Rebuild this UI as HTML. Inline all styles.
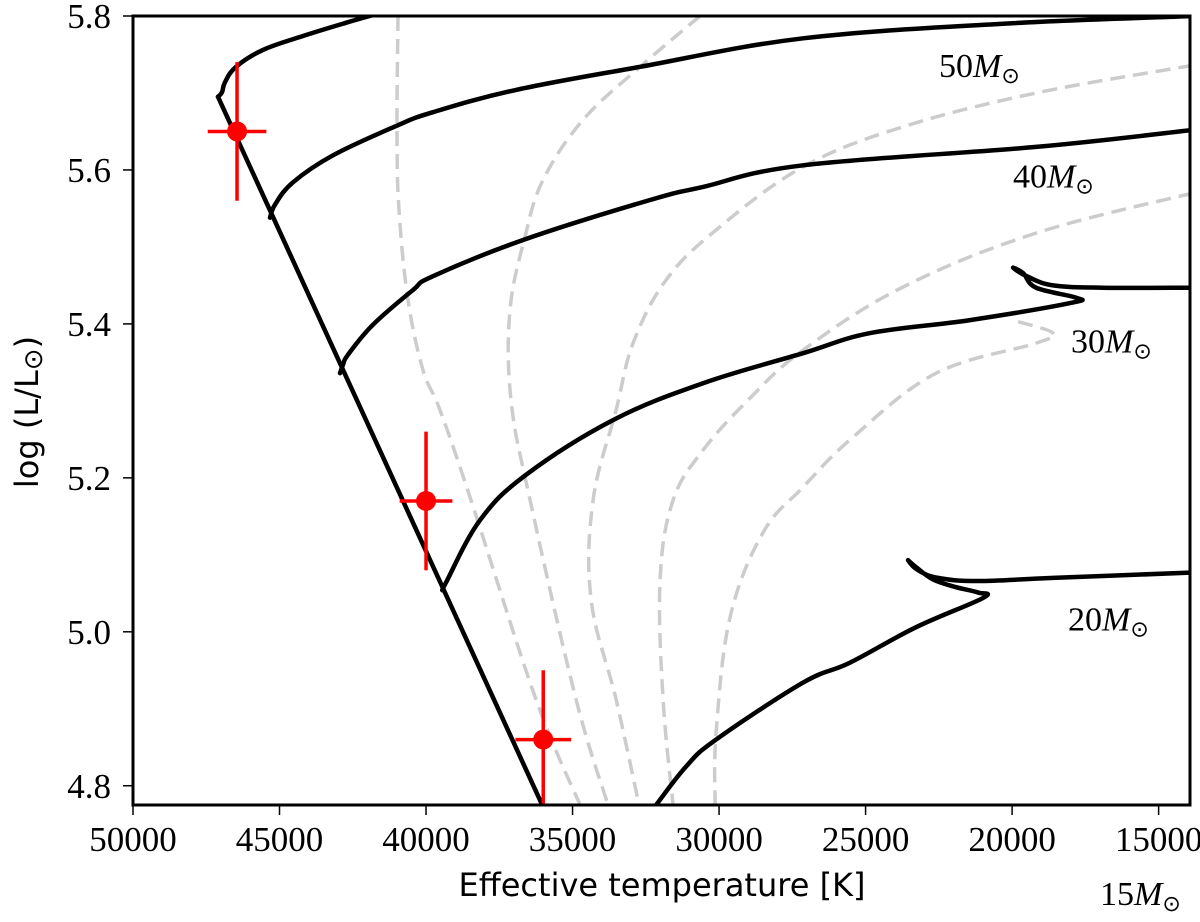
<!DOCTYPE html>
<html><head><meta charset="utf-8">
<style>
html,body{margin:0;padding:0;background:#fff;}
svg{display:block;}
.tick{font-family:"Liberation Serif",serif;font-size:35px;fill:#000;}
.lbl{font-family:"Liberation Serif",serif;font-size:34px;fill:#000;}
.ax{font-family:"DejaVu Sans","Liberation Sans",sans-serif;font-size:32px;fill:#000;}
</style></head>
<body>
<svg id="chart" width="1200" height="922" viewBox="0 0 1200 922" xmlns="http://www.w3.org/2000/svg">
<defs><clipPath id="clip"><rect x="133" y="16" width="1057" height="789"/></clipPath></defs>
<g id="plot" clip-path="url(#clip)"></g>
<rect x="133" y="16" width="1057" height="789" fill="none" stroke="#000" stroke-width="3"/>
<g id="axes"></g>
<text class="ax" x="662" y="896" text-anchor="middle">Effective temperature [K]</text>
<text class="ax" transform="translate(38,412) rotate(-90)" text-anchor="middle" font-size="35">log (L/L<tspan font-size="26" dy="4">⊙</tspan><tspan dy="-4">)</tspan></text>
</svg>
<script>
const xTicks=[50000,45000,40000,35000,30000,25000,20000,15000];
const yTicks=[4.8,5.0,5.2,5.4,5.6,5.8];
const zams=[[47100,5.695],[35950,4.768]];
const track60=[[47100,5.695],[46963,5.701],[46860,5.714],[46485,5.734],[45563,5.756],[44198,5.774],[42662,5.792],[41468,5.805]];
const track50=[[45324,5.538],[45154,5.555],[44539,5.584],[43174,5.619],[41024,5.657],[39761,5.675],[36928,5.704],[32696,5.734],[27133,5.771],[20307,5.790],[13822,5.800],[13480,5.801]];
const track40=[[42935,5.336],[42833,5.347],[42662,5.360],[41809,5.399],[40444,5.444],[39761,5.462],[36689,5.509],[32355,5.561],[30546,5.578],[27133,5.606],[19181,5.630],[13822,5.652]];
const track30=[[39420,5.055],[39317,5.064],[38157,5.145],[36587,5.204],[33618,5.275],[30546,5.323],[27133,5.362],[24846,5.388],[21433,5.405],[18020,5.427],[17815,5.434],[19181,5.447],[19624,5.466],[19966,5.473],[19500,5.462],[18600,5.450],[16894,5.447],[13822,5.447]];
const track20=[[32150,4.775],[31126,4.825],[30102,4.860],[27133,4.934],[25529,4.960],[23276,5.006],[20990,5.044],[21160,5.051],[21911,5.058],[22696,5.068],[23276,5.084],[23549,5.093],[23208,5.080],[22525,5.070],[21160,5.066],[18600,5.070],[13822,5.077]];
const iso1=[[40956,5.800],[40990,5.652],[40922,5.548],[40614,5.431],[40102,5.340],[39522,5.288],[38464,5.171],[36246,4.912],[34744,4.775]];
const iso2=[[30648,5.800],[32696,5.734],[34642,5.665],[36007,5.587],[36621,5.513],[37133,5.418],[37099,5.301],[36450,5.171],[34880,4.912],[33788,4.775]];
const iso3=[[13822,5.736],[19181,5.700],[23720,5.656],[27133,5.604],[30102,5.522],[31809,5.457],[32935,5.375],[33515,5.288],[34300,5.171],[34368,5.042],[33515,4.912],[32730,4.775]];
const iso4=[[13822,5.570],[19181,5.518],[23720,5.448],[27133,5.366],[29010,5.301],[30546,5.236],[31570,5.171],[32013,5.068],[31911,4.912],[31570,4.775]];
const iso5=[[19795,5.403],[18600,5.388],[19181,5.375],[22594,5.336],[25427,5.253],[27133,5.188],[28498,5.129],[29624,5.019],[30102,4.869],[30136,4.775]];
const starT=[46450,40000,36000];
const starL=[5.65,5.17,4.86];
const starTerr=[1000,900,950];
const starLerr=[0.09,0.09,0.09];
const massLabels=["50","40","30","20","15"];
const massLabelT=[22493,19968,17989,18091,17000];
const massLabelL=[5.721,5.577,5.363,5.002,4.645];

const X0=133,X1=1190,Y0=805,Y1=16;
const TMAX=50000,TMIN=13929;
const LMIN=4.775,LMAX=5.8;
function sx(t){return X0+(TMAX-t)/(TMAX-TMIN)*(X1-X0);}
function sy(l){return Y0-(l-LMIN)/(LMAX-LMIN)*(Y0-Y1);}
const NS="http://www.w3.org/2000/svg";
const plot=document.getElementById('plot');
const axes=document.getElementById('axes');
function mk(tag,attrs,parent){const e=document.createElementNS(NS,tag);for(const k in attrs)e.setAttribute(k,attrs[k]);parent.appendChild(e);return e;}
function pathD(pts){
  const p=pts.map(q=>[sx(q[0]),sy(q[1])]);
  if(p.length<3) return 'M'+p.map(q=>q[0].toFixed(1)+' '+q[1].toFixed(1)).join(' L');
  let d='M'+p[0][0].toFixed(1)+' '+p[0][1].toFixed(1);
  const k=0.18;
  for(let i=0;i<p.length-1;i++){
    const p0=p[Math.max(0,i-1)],p1=p[i],p2=p[i+1],p3=p[Math.min(p.length-1,i+2)];
    const c1=[p1[0]+(p2[0]-p0[0])*k,p1[1]+(p2[1]-p0[1])*k];
    const c2=[p2[0]-(p3[0]-p1[0])*k,p2[1]-(p3[1]-p1[1])*k];
    d+=' C'+c1[0].toFixed(1)+' '+c1[1].toFixed(1)+' '+c2[0].toFixed(1)+' '+c2[1].toFixed(1)+' '+p2[0].toFixed(1)+' '+p2[1].toFixed(1);
  }
  return d;
}

const isos=[iso1,iso2,iso3,iso4,iso5];
isos.forEach((s,i)=>{
  const p=mk('path',{d:pathD(s),fill:'none',stroke:'#cccccc','stroke-width':3.5,'stroke-dasharray':'15 8','stroke-linejoin':'round'},plot);
  
  
});
const tracks=[[zams,'zams-line'],[track60,'track-60msun'],[track50,'track-50msun'],[track40,'track-40msun'],[track30,'track-30msun'],[track20,'track-20msun']];
tracks.forEach(t=>{
  const p=mk('path',{d:pathD(t[0]),fill:'none',stroke:'#000','stroke-width':4.5,'stroke-linejoin':'round','stroke-linecap':'round'},plot);
  
  
});
for(let i=0;i<starT.length;i++){
  const g=mk('g',{},plot);
  
  
  mk('line',{x1:sx(starT[i]-starTerr[i]),x2:sx(starT[i]+starTerr[i]),y1:sy(starL[i]),y2:sy(starL[i]),stroke:'#ff0000','stroke-width':3.5},g);
  mk('line',{x1:sx(starT[i]),x2:sx(starT[i]),y1:sy(starL[i]-starLerr[i]),y2:sy(starL[i]+starLerr[i]),stroke:'#ff0000','stroke-width':3.5},g);
  mk('circle',{cx:sx(starT[i]),cy:sy(starL[i]),r:10,fill:'#ff0000'},g);
}
const svg=document.getElementById('chart');
for(let i=0;i<massLabels.length;i++){
  const t=mk('text',{class:'lbl',x:sx(massLabelT[i]),y:sy(massLabelL[i])},svg);
  
  
  t.appendChild(document.createTextNode(massLabels[i]));
  const m=mk('tspan',{'font-style':'italic'},t);m.textContent='M';
  const s=mk('tspan',{'font-size':'22',dy:'6'},t);s.textContent='⊙';
}
xTicks.forEach(v=>{
  const x=sx(v);
  const l=mk('line',{x1:x,x2:x,y1:Y0,y2:Y0+10,stroke:'#000','stroke-width':1.5},axes);
  
  
  const t=mk('text',{class:'tick',x:x,y:Y0+46,'text-anchor':'middle'},axes);
  
  
  t.textContent=v;
});
yTicks.forEach(v=>{
  const y=sy(v);
  const l=mk('line',{x1:X0-10,x2:X0,y1:y,y2:y,stroke:'#000','stroke-width':1.5},axes);
  
  
  const t=mk('text',{class:'tick',x:X0-22,y:y+12,'text-anchor':'end'},axes);
  
  
  t.textContent=v.toFixed(1);
});
</script>
</body></html>
